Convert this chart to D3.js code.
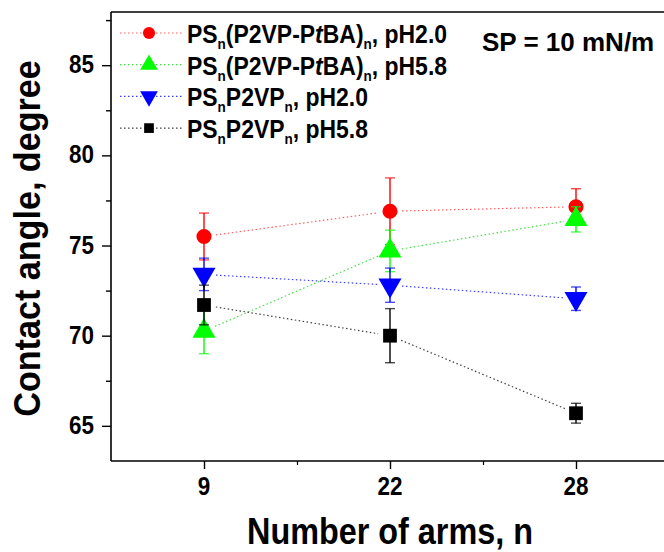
<!DOCTYPE html>
<html>
<head>
<meta charset="utf-8">
<script src="https://cdn.jsdelivr.net/npm/d3@7"></script>
<style>
  html, body { margin: 0; padding: 0; background: #fff; }
  svg { display: block; font-family: "Liberation Sans", Arial, sans-serif; font-weight: bold; }
</style>
</head>
<body>
<svg id="chart" width="664" height="552"></svg>
<script>
// Arm numbers (placed as evenly spaced categories)
const arms = ["9", "22", "28"];

// Contact angles (degree) and their error bars
const ptbaPH20 = [75.5, 76.9, 77.15];
const ptbaPH20Err = [1.3, 1.85, 1.0];
const ptbaPH58 = [70.25, 74.7, 76.45];
const ptbaPH58Err = [1.25, 1.15, 0.7];
const p2vpPH20 = [73.4, 72.8, 72.05];
const p2vpPH20Err = [0.9, 0.95, 0.65];
const p2vpPH58 = [71.7, 70.0, 65.7];
const p2vpPH58Err = [1.1, 1.5, 0.55];

const yTicks = [65, 70, 75, 80, 85];
const yMinorTicks = [67.5, 72.5, 77.5, 82.5, 87.5];

const series = [
  { values: ptbaPH20, err: ptbaPH20Err, color: "#ff0000", line: "#ff6060", symbol: d3.symbolCircle, size: 180, legendSize: 115,
    label: [["PS"], ["n", "sub"], ["(P2VP-P"], ["t", "it"], ["BA)"], ["n", "sub"], [", pH2.0"]] },
  { values: ptbaPH58, err: ptbaPH58Err, color: "#00ff00", line: "#40e040", symbol: d3.symbolTriangle, size: 230, legendSize: 136,
    label: [["PS"], ["n", "sub"], ["(P2VP-P"], ["t", "it"], ["BA)"], ["n", "sub"], [", pH5.8"]] },
  { values: p2vpPH20, err: p2vpPH20Err, color: "#0000ff", line: "#4040ff", symbol: "down", size: 230, legendSize: 136,
    label: [["PS"], ["n", "sub"], ["P2VP"], ["n", "sub"], [", pH2.0"]] },
  { values: p2vpPH58, err: p2vpPH58Err, color: "#000000", line: "#404040", symbol: d3.symbolSquare, size: 190, legendSize: 94,
    label: [["PS"], ["n", "sub"], ["P2VP"], ["n", "sub"], [", pH5.8"]] }
];

const svg = d3.select("#chart");
const plotLeft = 111, plotRight = 669, plotTop = 12, plotBottom = 461;

const x = d3.scaleLinear().domain([-0.5, arms.length - 0.5]).range([plotLeft, plotRight]);
const y = d3.scaleLinear().domain([63.05, 87.95]).range([plotBottom, plotTop]);

function symbolPath(s, size) {
  if (s === "down") {
    return d3.symbol(d3.symbolTriangle, size)();
  }
  return d3.symbol(s, size)();
}
function symbolTransform(s, px, py) {
  return s === "down" ? `translate(${px},${py}) rotate(180)` : `translate(${px},${py})`;
}

// frame: top border line
svg.append("line").attr("x1", plotLeft).attr("x2", 664).attr("y1", plotTop).attr("y2", plotTop)
  .attr("stroke", "#000").attr("stroke-width", 1.6);

// y axis (labels drawn separately so they can be narrowed)
const yAxis = d3.axisLeft(y).tickValues(yTicks).tickSize(9).tickFormat("");
const gy = svg.append("g").attr("transform", `translate(${plotLeft},0)`).call(yAxis);
gy.select(".domain").attr("d", `M0,${plotTop}V${plotBottom}`).attr("stroke-width", 1.6);
gy.selectAll(".tick line").attr("stroke-width", 1.4);
const yMinor = d3.axisLeft(y).tickValues(yMinorTicks).tickSize(5).tickFormat("");
const gym = svg.append("g").attr("transform", `translate(${plotLeft},0)`).call(yMinor);
gym.select(".domain").remove();
gym.selectAll(".tick line").attr("stroke-width", 1.4);
svg.append("g").selectAll("text").data(yTicks).join("text")
  .attr("transform", d => `translate(94,${y(d) + 8}) scale(0.88,1)`)
  .attr("text-anchor", "end").attr("font-size", 25.5).text(d => d);

// x axis
const xAxis = d3.axisBottom(x).tickValues(d3.range(arms.length)).tickSize(8).tickFormat("");
const gx = svg.append("g").attr("transform", `translate(0,${plotBottom})`).call(xAxis);
gx.select(".domain").attr("d", `M${plotLeft},0H${plotRight}`).attr("stroke-width", 1.6);
gx.selectAll(".tick line").attr("stroke-width", 1.4);
const xMinor = d3.axisBottom(x).tickValues(d3.range(arms.length - 1).map(i => i + 0.5)).tickSize(4).tickFormat("");
const gxm = svg.append("g").attr("transform", `translate(0,${plotBottom})`).call(xMinor);
gxm.select(".domain").remove();
gxm.selectAll(".tick line").attr("stroke-width", 1.2);
svg.append("g").selectAll("text").data(arms).join("text")
  .attr("transform", (d, i) => `translate(${x(i)},495) scale(0.88,1)`)
  .attr("text-anchor", "middle").attr("font-size", 25.5).text(d => d);

// axis titles
svg.append("text").attr("transform", "translate(390,544) scale(0.875,1)").attr("text-anchor", "middle")
  .attr("font-size", 37).text("Number of arms, n");
svg.append("text").attr("transform", "translate(40,238.5) rotate(-90) scale(0.935,1)").attr("text-anchor", "middle")
  .attr("font-size", 36.5).text("Contact angle, degree");

// connecting dotted lines, with a gap around each symbol
const gap = 12;
series.forEach(s => {
  for (let i = 0; i < s.values.length - 1; i++) {
    const x1 = x(i), y1 = y(s.values[i]), x2 = x(i + 1), y2 = y(s.values[i + 1]);
    const len = Math.hypot(x2 - x1, y2 - y1);
    const ux = (x2 - x1) / len, uy = (y2 - y1) / len;
    svg.append("line")
      .attr("x1", x1 + ux * gap).attr("y1", y1 + uy * gap)
      .attr("x2", x2 - ux * gap).attr("y2", y2 - uy * gap)
      .attr("stroke", s.line).attr("stroke-width", 1.2).attr("stroke-dasharray", "1.5,2.5");
  }
});

// error bars and symbols
series.forEach(s => {
  const g = svg.append("g");
  s.values.forEach((v, i) => {
    const px = x(i);
    const yt = y(v + s.err[i]), yb = y(v - s.err[i]);
    g.append("line").attr("x1", px).attr("x2", px).attr("y1", yt).attr("y2", yb)
      .attr("stroke", s.color).attr("stroke-width", 1.4);
    [yt, yb].forEach(yy => g.append("line").attr("x1", px - 5).attr("x2", px + 5).attr("y1", yy).attr("y2", yy)
      .attr("stroke", s.color).attr("stroke-width", 1.4).attr("stroke-opacity", 0.7));
  });
  s.values.forEach((v, i) => {
    g.append("path").attr("d", symbolPath(s.symbol, s.size))
      .attr("transform", symbolTransform(s.symbol, x(i), y(v)))
      .attr("fill", s.color);
  });
});

// legend
const lg = svg.append("g");
series.forEach((s, k) => {
  const ly = 33 + k * 31.7;
  lg.append("line").attr("x1", 120).attr("x2", 182).attr("y1", ly).attr("y2", ly)
    .attr("stroke", s.line).attr("stroke-width", 1.2).attr("stroke-dasharray", "1.5,2.5");
  lg.append("path").attr("d", symbolPath(s.symbol, s.legendSize))
    .attr("transform", symbolTransform(s.symbol, 149, ly)).attr("fill", s.color);
  const t = lg.append("text").attr("transform", `translate(187,${ly + 10}) scale(0.9,1)`).attr("font-size", 25.5);
  let sub = false;
  s.label.forEach(([txt, kind]) => {
    const ts = t.append("tspan").text(txt);
    if (kind === "sub") {
      ts.attr("font-size", 15).attr("dy", 6);
      sub = true;
    } else {
      if (sub) { ts.attr("dy", -6); sub = false; }
      if (kind === "it") ts.attr("font-style", "italic");
    }
  });
});

svg.append("text").attr("x", 482).attr("y", 50.5).attr("font-size", 26).text("SP = 10 mN/m");
</script>
</body>
</html>
